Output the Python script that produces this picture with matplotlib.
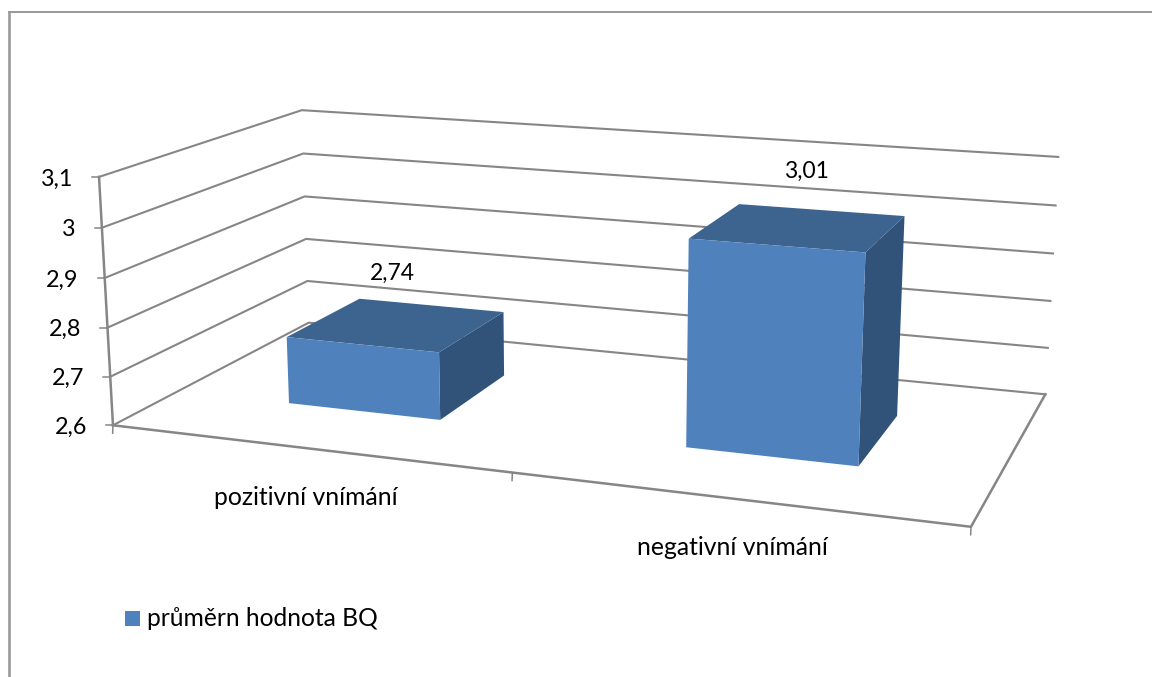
import numpy as np
import matplotlib
matplotlib.use('Agg')
import matplotlib.pyplot as plt
from matplotlib.patches import Polygon, Rectangle

categories = ['pozitivní vnímání', 'negativní vnímání']
values = [2.74, 3.01]
value_labels = ['2,74', '3,01']
axis_ticks = [2.6, 2.7, 2.8, 2.9, 3.0, 3.1]
axis_tick_labels = ['2,6', '2,7', '2,8', '2,9', '3', '3,1']
series_name = 'průměrn hodnota BQ'

LINE = '#868686'
FRONT = '#4F81BD'
TOP = '#3D638F'
SIDE = '#325379'

plt.rcParams['font.family'] = ['Lato', 'DejaVu Sans']

# camera: (category, depth, value) -> pixel position of the frame corners
camera_points = [
    ((0, 0, 3.1), (99, 177)), ((0, 0, 2.6), (113, 425)),
    ((0, 1, 3.1), (302, 110)), ((0, 1, 2.7), (307, 281)), ((0, 1, 2.6), (309, 323)),
    ((2, 1, 3.1), (1058, 157)), ((2, 1, 2.8), (1051, 301)), ((2, 1, 2.6), (1045, 394)),
    ((2, 0, 2.6), (971, 527)),
]


def fit_camera(points):
    rows = []
    for (x, y, z), (u, v) in points:
        rows.append([x, y, z, 1, 0, 0, 0, 0, -u * x, -u * y, -u * z, -u])
        rows.append([0, 0, 0, 0, x, y, z, 1, -v * x, -v * y, -v * z, -v])
    return np.linalg.svd(np.array(rows, dtype=float))[2][-1].reshape(3, 4)


camera = fit_camera(camera_points)


def project(x, y, z):
    p = camera @ np.array([x, y, z, 1.0])
    return p[0] / p[2], p[1] / p[2]


fig = plt.figure(figsize=(11.52, 6.77), dpi=100)
ax = fig.add_axes([0, 0, 1, 1])
ax.set_xlim(0, 1152)
ax.set_ylim(677, 0)
ax.axis('off')

# outer chart border, open to the right and bottom
ax.plot([1152, 8.5], [11.5, 11.5], color=LINE, lw=1.2)
ax.plot([8.5, 8.5], [11.5, 677], color='#9A9A9A', lw=1.9)

# gridlines on the two walls
for t in axis_ticks:
    pts = [project(0, 0, t), project(0, 1, t), project(2, 1, t)]
    ax.plot(*zip(*pts), color=LINE, lw=1.5, solid_joinstyle='round')
    u, v = pts[0]
    ax.plot([u - 7, u], [v, v], color=LINE, lw=1.1)

# floor and the vertical axis
floor = [project(0, 0, 2.6), project(2, 0, 2.6), project(2, 1, 2.6)]
ax.plot(*zip(*floor), color=LINE, lw=1.8)
ax.plot(*zip(project(0, 0, 2.6), project(0, 0, 3.1)), color=LINE, lw=1.8)
for c in [0, 1, 2]:
    u, v = project(c, 0, 2.6)
    ax.plot([u, u - 0.3], [v, v + 8], color=LINE, lw=1.1)

# value axis labels
for t, label in zip(axis_ticks, axis_tick_labels):
    u, v = project(0, 0, t)
    ax.text(u - 26, v + 2, label, ha='right', va='center', fontsize=16.8, color='black')

# bars
bar_half = 0.198
depth_near, depth_far = 0.30, 0.70
value_label_shift = [(-5, -51), (7, -56)]
for i, value in enumerate(values):
    x0, x1 = i + 0.5 - bar_half, i + 0.5 + bar_half
    side = [project(x1, depth_near, 2.6), project(x1, depth_far, 2.6),
            project(x1, depth_far, value), project(x1, depth_near, value)]
    top = [project(x0, depth_near, value), project(x1, depth_near, value),
           project(x1, depth_far, value), project(x0, depth_far, value)]
    front = [project(x0, depth_near, 2.6), project(x1, depth_near, 2.6),
             project(x1, depth_near, value), project(x0, depth_near, value)]
    ax.add_patch(Polygon(side, closed=True, fc=SIDE, ec='none', zorder=3))
    ax.add_patch(Polygon(top, closed=True, fc=TOP, ec='none', zorder=3))
    ax.add_patch(Polygon(front, closed=True, fc=FRONT, ec='none', zorder=3))
    u, v = project(i + 0.5, 0.5, value)
    du, dv = value_label_shift[i]
    ax.text(u + du, v + dv, value_labels[i], ha='center', va='center', fontsize=16.5, zorder=4)

# category labels
category_label_shift = [(0, 49), (-1.5, 49)]
for i, name in enumerate(categories):
    u, v = project(i + 0.5, 0, 2.6)
    du, dv = category_label_shift[i]
    ax.text(u + du, v + dv, name, ha='center', va='center', fontsize=17.8)

# legend
ax.add_patch(Rectangle((125, 611), 15, 15, fc=FRONT, ec='none'))
ax.text(147, 619, series_name, ha='left', va='center', fontsize=17.7)

fig.savefig('out.png', dpi=100)
